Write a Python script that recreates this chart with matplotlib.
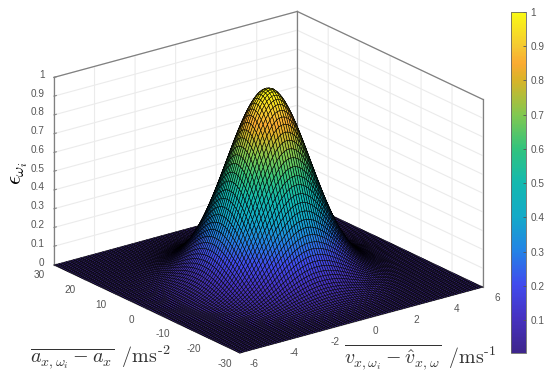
import numpy as np
import matplotlib
matplotlib.use('Agg')
import matplotlib.pyplot as plt
from matplotlib.colors import LinearSegmentedColormap
from mpl_toolkits.mplot3d import proj3d

# height of the bump along its ridge, centre outwards
half_profile = [1.000, 0.997, 0.990, 0.977, 0.959, 0.937, 0.910, 0.880, 0.846, 0.809,
                0.770, 0.729, 0.686, 0.643, 0.599, 0.556, 0.512, 0.470, 0.429, 0.389,
                0.352, 0.316, 0.282, 0.251, 0.222, 0.195, 0.171, 0.149, 0.129, 0.111,
                0.095, 0.081, 0.069, 0.058, 0.049, 0.041, 0.034, 0.028, 0.023, 0.019,
                0.015, 0.012, 0.010, 0.008, 0.006, 0.005, 0.004, 0.003, 0.002, 0.002, 0.001]
profile = np.array(half_profile[:0:-1] + half_profile)
v_values = np.arange(-50, 51) * 0.12
a_values = np.arange(-50, 51) * 0.6

v_ticks = [-6, -4, -2, 0, 2, 4, 6]
a_ticks = [-30, -20, -10, 0, 10, 20, 30]
z_ticks = [0, 0.1, 0.2, 0.3, 0.4, 0.5, 0.6, 0.7, 0.8, 0.9, 1]
z_labels = ['0', '0.1', '0.2', '0.3', '0.4', '0.5', '0.6', '0.7', '0.8', '0.9', '1']
bar_ticks = [0.1, 0.2, 0.3, 0.4, 0.5, 0.6, 0.7, 0.8, 0.9, 1]
bar_labels = ['0.1', '0.2', '0.3', '0.4', '0.5', '0.6', '0.7', '0.8', '0.9', '1']

bar_colors = ['#3e268c', '#4632c0', '#414bee', '#2384e6', '#14aac8', '#14b9af',
              '#32c37d', '#82c850', '#d7b428', '#faaa32', '#f5c832', '#fafa14']
bar_stops = [0, 0.1, 0.2, 0.3, 0.4, 0.5, 0.6, 0.7, 0.8, 0.85, 0.9, 1]

plt.rcParams['font.family'] = ['Liberation Sans', 'DejaVu Sans']
plt.rcParams['mathtext.fontset'] = 'cm'
TICK = '#555555'
EDGE = '#808080'
W, H = 550, 378

cmap = LinearSegmentedColormap.from_list('bar', list(zip(bar_stops, bar_colors)))
V, A = np.meshgrid(v_values, a_values)
Z = np.outer(profile, profile)

fig = plt.figure(figsize=(W / 100, H / 100), dpi=100)
ax = fig.add_axes([0.1, 0.1, 0.8, 0.8], projection='3d', proj_type='ortho')
ax.view_init(elev=21, azim=-127.1)
ax.set_box_aspect((305, 308, 201), zoom=1)
ax.patch.set_alpha(0)
ax.computed_zorder = False

# box edges behind the surface
for xs, ys, zs in [([6, 6], [30, 30], [0, 1]),
                   ([-6, -6], [30, 30], [0, 1]),
                   ([6, 6], [-30, -30], [0, 1]),
                   ([-6, 6], [30, 30], [1, 1]),
                   ([6, 6], [30, -30], [1, 1])]:
    ax.plot(xs, ys, zs, color=EDGE, lw=0.9, zorder=1)

ax.plot_surface(V, A, Z, cmap=cmap, vmin=0, vmax=1, rstride=1, cstride=1,
                edgecolor='black', linewidth=0.38, shade=False, antialiased=True, zorder=2)

ax.set_xlim(-6, 6)
ax.set_ylim(-30, 30)
ax.set_zlim(0, 1)
ax.set_xticks(v_ticks)
ax.set_yticks(a_ticks)
ax.set_zticks(z_ticks)
ax.set_xticklabels([''] * len(v_ticks))
ax.set_yticklabels([''] * len(a_ticks))
ax.set_zticklabels([''] * len(z_ticks))

for axis in (ax.xaxis, ax.yaxis, ax.zaxis):
    axis.set_pane_color((1, 1, 1, 1))
    axis.pane.set_edgecolor('white')
    axis._axinfo['grid']['color'] = '#ebebeb'
    axis._axinfo['grid']['linewidth'] = 0.8
    axis._axinfo['tick']['inward_factor'] = 0
    axis._axinfo['tick']['outward_factor'] = 0.12
    axis.line.set_color('#a0a0a0')
    axis.line.set_linewidth(0.7)
ax.tick_params(axis='both', color='#8c8c8c', width=0.6)


def corner(x, y, z):
    px, py, _ = proj3d.proj_transform(x, y, z, ax.get_proj())
    return ax.transData.transform((px, py))


# scale the cube so the left and right floor corners land where they are in the reference
for i in range(3):
    fig.canvas.draw()
    left = corner(-6, 30, 0)
    right = corner(6, -30, 0)
    box = ax.get_position()
    s = 429 / (right[0] - left[0])
    side = box.width * W * s
    ox = 54 - (left[0] - box.x0 * W) * s
    oy = (H - 265) - (left[1] - box.y0 * H) * s
    ax.set_position([ox / W, oy / H, side / W, side / H])
fig.canvas.draw()


def tick_text(pos, dx, dy, label, ha='center'):
    fig.text((pos[0] + dx) / W, (pos[1] - dy) / H, label, fontsize=7.2, color=TICK,
             ha=ha, va='center')


for t in a_ticks:
    tick_text(corner(-6, t, 0), -15, 10.5, str(t))
for t in v_ticks:
    tick_text(corner(t, -30, 0), 14, 11, str(t))
for t, lab in zip(z_ticks, z_labels):
    tick_text(corner(-6, 30, t), -9.5, -2.5, lab, ha='right')

cax = fig.add_axes([511 / W, (H - 353) / H, 15 / W, 341 / H])
sm = plt.cm.ScalarMappable(norm=plt.Normalize(0.0035, 1), cmap=cmap)
cb = fig.colorbar(sm, cax=cax, ticks=bar_ticks)
cb.ax.set_yticklabels(bar_labels)
cb.ax.tick_params(labelsize=7.2, labelcolor=TICK, length=2, width=0.6, direction='in',
                  color='#555555', pad=3)
cb.outline.set_edgecolor('#666666')
cb.outline.set_linewidth(0.6)

fig.text(19 / W, 1 - 173 / H, r'$\epsilon_{\omega_i}$', rotation=90, fontsize=16,
         ha='center', va='center')
fig.text(30 / W, 1 - 363 / H, r'$\overline{a_{x,\omega_i} - a_x}\;\;/\mathrm{ms}^{\text{-2}}$',
         fontsize=14.5, ha='left', va='baseline', color='#333333')
fig.text(344 / W, 1 - 365 / H, r'$\overline{v_{x,\omega_i} - \hat{v}_{x,\omega}}\;\;/\mathrm{ms}^{\text{-1}}$',
         fontsize=14.3, ha='left', va='baseline', color='#333333')

fig.savefig('out.png', dpi=100)
